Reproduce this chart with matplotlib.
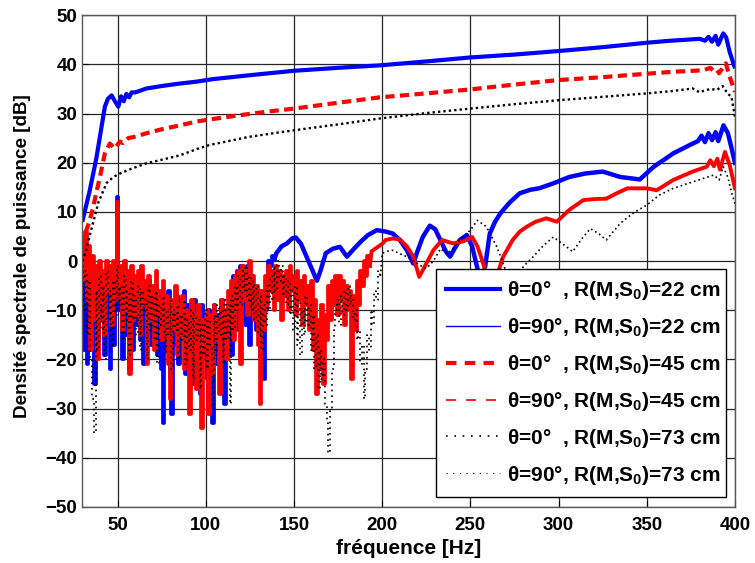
import matplotlib
matplotlib.use('Agg')
import matplotlib.pyplot as plt
from matplotlib.lines import Line2D
import numpy as np

plt.rcParams['font.family'] = ['Liberation Sans', 'DejaVu Sans']
plt.rcParams['font.weight'] = 'bold'
plt.rcParams['mathtext.fontset'] = 'custom'
plt.rcParams['mathtext.rm'] = 'Liberation Sans:bold'
plt.rcParams['mathtext.it'] = 'Liberation Sans:bold'
plt.rcParams['mathtext.bf'] = 'Liberation Sans:bold'

# --- data ---
# theta=0, R=22 cm (top blue curve)
f_b0 = [30, 32, 34, 36.2, 38, 40, 42.8, 44.5, 46.6, 48.5, 50.4, 52, 53.5, 55, 56.5, 58, 60,
        66.4, 75, 85.3, 95, 104, 125, 150, 175, 198.7, 225, 249.7, 275, 299.6, 325, 350,
        363, 372, 380, 383, 385, 387, 389, 390.5, 393.3, 395, 397, 400]
v_b0 = [8, 11, 14, 17.8, 21, 25.3, 31.4, 33, 33.7, 32.5, 31.4, 33.5, 32.5, 34, 33.3, 34.3, 34.3,
        35.1, 35.6, 36.1, 36.5, 37.0, 37.8, 38.7, 39.3, 39.8, 40.6, 41.4, 42.0, 42.7, 43.5, 44.4,
        44.8, 45.0, 45.2, 44.8, 45.6, 44.6, 45.8, 44.0, 46.3, 45.5, 42.5, 39.2]

# theta=90, R=22 cm : noisy part 30..139 Hz (1 Hz step) then smoother tail
v_b90_dense = [-2, -18, 0, -21, -3, -15, -1, -25, -4, -16,
               -2, -12, -5, -19, -3, -14, -22, -4, -17, -2,
               13, -10, -3, -20, -2, -15, -5, -22, -4, -18,
               -6, -13, -3, -16, -5, -21, -6, -14, -4, -17,
               -7, -12, -5, -19, -8, -22, -33, -7, -18, -6,
               -24, -31, -9, -17, -7, -21, -8, -15, -6, -23,
               -9, -19, -10, -25, -8, -17, -11, -27, -9, -20,
               -12, -24, -10, -18, -33, -9, -21, -11, -17, -8,
               -22, -29, -10, -16, -7, -19, -3, -14, -2, -12,
               -1, -10, -2, -13, -1, -17, -3, -9, -5, -14,
               -6, -20, -8, -24, -10, -3, 0, -1, 1, 0.5]
f_b90_tail = [140, 143, 146, 149, 151, 154, 157, 160, 163, 165, 168, 172, 176, 180, 184, 188,
              192, 197, 202, 206, 210, 214, 217.6, 220, 223, 227, 230, 233, 236, 238.5, 241,
              244, 248, 251, 254, 256, 258, 261, 264, 267, 272, 278, 284, 289, 297, 306, 315,
              325, 335, 346, 354, 365, 376, 379, 381, 383, 385, 387, 389, 390.5, 393.5, 396,
              398, 400]
v_b90_tail = [1.6, 3, 3.6, 4.6, 4.8, 3.5, 1, -1.5, -4, -2, 1.6, 2.5, 2.9, 0.9, 2.5, 4,
              5.3, 6.3, 6, 5.6, 4.3, 2.2, -0.5, 2, 4.9, 7.2, 6.5, 4.3, 2, 0.9, 2.5,
              4.3, 5.3, 3, -1.5, -6, -2, 5.6, 8, 9.7, 11.8, 13.8, 14.5, 14.8, 15.8, 17.1, 17.8,
              18.2, 17.1, 16.6, 19.2, 21.9, 23.9, 24.4, 25.5, 24.2, 26, 24.6, 26.2, 24.4, 27.6, 26,
              23, 20]

# theta=0, R=45 cm (red dashed)
f_r0 = [30, 32, 34, 36.2, 38, 40, 42.8, 45.6, 48.5, 51.3, 53, 56, 60, 66.4, 75, 85.3, 95, 106,
        120, 135, 150, 175, 198.7, 225, 249.7, 275, 299.6, 325, 350, 365, 382, 386, 388, 389.6,
        391, 393, 394.8, 397, 400]
v_r0 = [3, 6, 8, 11, 14, 17.1, 21.9, 23.9, 22.9, 24.3, 24, 25, 25.3, 26, 26.8, 27.6, 28.4, 29,
        29.7, 30.4, 31, 32.2, 33.3, 34.1, 34.9, 35.9, 36.8, 37.4, 38.1, 38.5, 38.8, 39.3, 38.6, 38.9,
        38.2, 39.3, 40.2, 37.5, 34.4]

# theta=90, R=45 cm : noisy part 30..193 Hz (1 Hz step) then tail
v_r90_dense = [5, -4, 6, -8, 3, -18, 1, -12, -1, -20,
               0, -9, -2, -15, 0, -6, -1, -13, 0, -8,
               12, -5, -1, -14, 0, -10, -2, -23, -1, -12,
               -3, -11, -2, -15, -1, -9, -4, -21, -3, -12,
               -5, -18, -2, -11, -6, -16, -4, -13, -7, -21,
               -28, -8, -14, -5, -19, -9, -15, -7, -22, -10,
               -17, -31, -8, -19, -11, -26, -9, -20, -34, -12,
               -18, -10, -31, -11, -23, -9, -16, -12, -27, -8,
               -15, -10, -20, -6, -13, -4, -16, -3, -10, -2,
               -21, -1, -8, -2, -11, 0, -7, -3, -12, -5,
               -17, -29, -6, -14, -3, -9, -1, -6, -2, -10,
               -1, -8, -2, -12, -3, -7, -2, -10, -1, -6,
               -3, -11, -2, -8, -4, -13, -3, -9, -5, -14,
               -4, -18, -8, -27, -12, -22, -9, -25, -11, -16,
               -5, -12, -4, -9, -3, -11, -3, -8, -4, -13,
               -5, -10, -6, -24, -7, -14, -4, -9, -2, -5,
               0, -3, 1, -1]
f_r90_tail = [194, 196, 198, 200, 202, 206, 210, 214, 217.6, 221, 225, 229, 234, 240, 246, 251,
              254, 256, 259, 262, 265, 268.6, 274, 278, 282, 287, 293, 299, 306, 314, 320, 327,
              333, 339, 350, 355.6, 365, 376, 384, 386, 388, 390, 391.5, 394.3, 397, 400]
v_r90_tail = [2, 2.5, 3, 3.5, 4.3, 4.6, 4.4, 3, 0.9, -3.2, -0.5, 2.2, 4.3, 3.6, 4, 4.9,
              3, 0.9, -2.5, -6, -3, 0.9, 4.3, 6, 7, 8, 8.7, 8, 10.4, 12.4, 12.6, 12.7,
              13.8, 14.8, 14.8, 14.4, 16.5, 18.2, 19.2, 20.5, 19.3, 20.8, 18.6, 22.2, 19.5, 14.8]

# theta=0, R=73 cm (black dotted)
f_k0 = [30, 32, 35, 37, 39, 41, 43.8, 47.6, 51.3, 58, 66.4, 75, 85.3, 95, 102, 125, 150, 175,
        198.7, 225, 249.7, 275, 299.6, 325, 350, 365, 376, 380, 382, 386, 389.6, 393, 396, 398, 400]
v_k0 = [0, 2, 6.3, 9, 11.8, 13.5, 15.9, 17.1, 17.8, 18.8, 19.9, 20.6, 21.5, 22.8, 23.6, 25.3, 26.6,
        27.8, 29, 30.1, 31, 31.9, 32.7, 33.4, 34.1, 34.6, 35.1, 34.3, 34.6, 35, 34.8, 35.6, 34, 33.4,
        29.3]

# theta=90, R=73 cm : noisy part 30..199 Hz (1 Hz step) then tail
v_k90_dense = [0, -10, -2, -15, -4, -20, -28, -35, -6, -18,
               -3, -14, -5, -20, -2, -12, -6, -17, -4, -11,
               -1, -9, -5, -16, -3, -13, -6, -19, -4, -12,
               -7, -15, -5, -18, -6, -11, -8, -20, -5, -14,
               -7, -16, -6, -21, -9, -13, -7, -19, -10, -15,
               -8, -22, -10, -14, -9, -20, -11, -16, -8, -21,
               -12, -18, -10, -24, -11, -16, -12, -26, -13, -19,
               -10, -22, -12, -17, -30, -11, -19, -9, -15, -10,
               -21, -8, -16, -9, -29, -7, -14, -5, -10, -3,
               -9, -2, -6, -1, -8, -3, -10, -4, -12, -5,
               -15, -7, -18, -9, -13, -5, -10, -3, -8, -1,
               -6, 0, -4, -1, -7, -3, -9, -4, -11, -6,
               -14, -5, -17, -8, -19, -10, -15, -7, -13, -9,
               -18, -11, -22, -15, -26, -18, -24, -20, -29, -33,
               -39, -30, -22, -14, -10, -8, -13, -7, -11, -6,
               -10, -5, -9, -7, -12, -10, -16, -14, -21, -17,
               -28, -22, -15, -18, -10, -13, -6, -8, -2, -3]
f_k90_tail = [200, 203, 206, 210, 214, 218, 221, 225, 229, 233, 237, 240, 244, 250, 254, 259,
              262, 265, 268.6, 272, 276, 280, 285.6, 291, 297, 304.5, 308, 313, 318, 323, 327,
              335, 342, 350, 357, 365, 376, 388, 391, 393.3, 396, 398, 400]
v_k90_tail = [1.6, 2, 2.2, 1.5, 0.9, 0, -0.8, -1.5, 0, 2.5, 1.5, 2.5, 4.3, 6.3, 8.3, 7,
              5, 2.9, -0.5, -4, -5, -1.1, 0.9, 3, 4.9, 2.9, 1.9, 4.5, 6.6, 5.5, 4.3,
              7.7, 9.7, 11.4, 13.4, 14.8, 16.1, 17.5, 16.5, 19.2, 17, 14, 11.7]

labels = [r'θ=0°  , R(M,S$_0$)=22 cm', r'θ=90°, R(M,S$_0$)=22 cm',
          r'θ=0°  , R(M,S$_0$)=45 cm', r'θ=90°, R(M,S$_0$)=45 cm',
          r'θ=0°  , R(M,S$_0$)=73 cm', r'θ=90°, R(M,S$_0$)=73 cm']

f_b90_dense = list(range(30, 30 + len(v_b90_dense)))
f_r90_dense = list(range(30, 30 + len(v_r90_dense)))
f_k90_dense = list(range(30, 30 + len(v_k90_dense)))

fig = plt.figure(figsize=(7.55, 5.63), dpi=100)
ax = fig.add_axes([0.109, 0.0995, 0.8645, 0.8735])

blue, red = '#0000ff', '#ff0000'
ax.plot(f_b0, v_b0, color=blue, lw=3.0, solid_capstyle='butt')
# noisy spectra: vertical strokes between successive samples
ax.plot(f_b90_dense, v_b90_dense, color=blue, lw=2.7, drawstyle='steps-mid')
ax.plot(f_b90_dense[-1:] + f_b90_tail, v_b90_dense[-1:] + v_b90_tail, color=blue, lw=3.2)
ax.plot(f_r0, v_r0, color=red, lw=3.0, dashes=(2.2, 1.3))
ax.plot(f_r90_dense, v_r90_dense, color=red, lw=2.7, drawstyle='steps-mid')
ax.plot(f_r90_dense[-1:] + f_r90_tail, v_r90_dense[-1:] + v_r90_tail, color=red, lw=2.8)
ax.plot(f_k0, v_k0, color='k', lw=1.7, dashes=(1, 1.3))
ax.plot(f_k90_dense, v_k90_dense, color='k', lw=1.2, dashes=(1, 2.4), drawstyle='steps-mid')
ax.plot(f_k90_dense[-1:] + f_k90_tail, v_k90_dense[-1:] + v_k90_tail, color='k', lw=1.2,
        dashes=(1, 1.8))

ax.set_xlim(30, 400)
ax.set_ylim(-50, 50)
ax.set_xticks(np.arange(50, 401, 50))
ax.set_yticks(np.arange(-50, 51, 10))
ax.grid(True, color='0.15', lw=0.9, ls='-')
ax.set_axisbelow(True)
ax.tick_params(direction='in', length=4, labelsize=13.5, colors='k')
ax.tick_params(axis='x', pad=7)
for s in ax.spines.values():
    s.set_color('0.35')
    s.set_linewidth(1.0)

ax.set_xlabel('fréquence [Hz]', fontsize=15, fontweight='bold', labelpad=4)
ax.set_ylabel('Densité spectrale de puissance [dB]', fontsize=13.6, fontweight='bold')
ax.yaxis.set_label_coords(-0.079, 0.51)

handles = [Line2D([], [], color=blue, lw=3.0),
           Line2D([], [], color=blue, lw=1.0),
           Line2D([], [], color=red, lw=3.0, dashes=(2.5, 2.0)),
           Line2D([], [], color=red, lw=1.2, dashes=(6, 6)),
           Line2D([], [], color='k', lw=1.2, dashes=(1, 4)),
           Line2D([], [], color='k', lw=0.8, dashes=(1, 5))]
leg = ax.legend(handles, labels, loc='lower left', bbox_to_anchor=(0.542, 0.02, 0.444, 0.458),
                mode='expand', fontsize=15, frameon=True, fancybox=False, framealpha=1,
                edgecolor='k', handlelength=2.55, handletextpad=0.34, labelspacing=0.67,
                borderaxespad=0, borderpad=0.5)
leg.get_frame().set_linewidth(1.0)

fig.savefig('out.png', dpi=100)
